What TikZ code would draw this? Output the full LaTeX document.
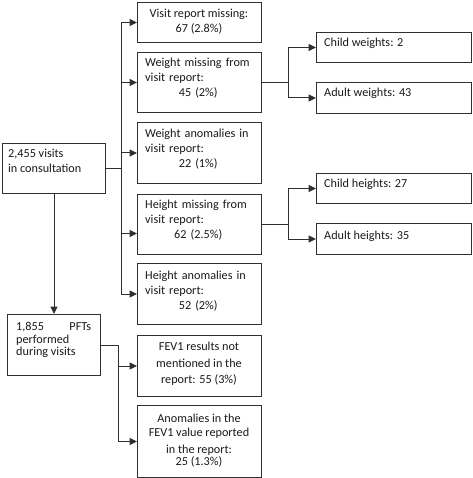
\documentclass[tikz,border=0pt]{standalone}
\usepackage{fontspec}
\setmainfont{Carlito}
\usetikzlibrary{arrows.meta,calc}
\definecolor{lc}{HTML}{303030}
\definecolor{tc}{HTML}{1A1A1A}
\begin{document}
\begin{tikzpicture}[x=1pt,y=-1pt,
  box/.style={draw=lc, line width=1pt, inner sep=0pt, anchor=north west},
  txt/.style={inner sep=0pt, text=tc, font=\fontsize{12.2}{15}\selectfont},
  ln/.style={draw=lc, line width=1pt},
  arr/.style={draw=lc, line width=1pt, -{Triangle[length=7.5pt,width=7pt]}}]
\useasboundingbox[fill=white] (0,0) rectangle (472,478);
% boxes
\node[box, minimum width=103pt, minimum height=50pt] (b1) at (2,143) {};
\node[box, minimum width=93pt, minimum height=61pt] (b2) at (7,314) {};
\node[box, minimum width=124pt, minimum height=40pt] (A) at (137,2) {};
\node[box, minimum width=124pt, minimum height=60pt] (B) at (137,52) {};
\node[box, minimum width=124pt, minimum height=61pt] (C) at (137,122) {};
\node[box, minimum width=124pt, minimum height=60pt] (D) at (137,194) {};
\node[box, minimum width=124pt, minimum height=61pt] (E) at (137,263) {};
\node[box, minimum width=124pt, minimum height=61pt] (F) at (137,335) {};
\node[box, minimum width=124pt, minimum height=72pt] (G) at (137,405) {};
\node[box, minimum width=155pt, minimum height=30pt] (cw) at (316,32) {};
\node[box, minimum width=155pt, minimum height=31pt] (aw) at (316,82) {};
\node[box, minimum width=155pt, minimum height=30pt] (ch) at (316,173) {};
\node[box, minimum width=155pt, minimum height=31pt] (ah) at (316,223) {};
% texts
\node[txt, anchor=north west, align=left, font=\fontsize{12.2}{14}\selectfont] (tb1) at (8,148) {\strut 2,455 visits\\in consultation};
\node[txt, anchor=north west, align=left, font=\fontsize{12.2}{12}\selectfont] (tb2) at (16,322) {\strut\makebox[75pt][s]{1,855 PFTs}\\performed\\during visits};
\node[txt, anchor=north, align=center] (tA) at (199,7) {\strut Visit report missing:\\67 (2.8\%)};
\node[txt, anchor=north west, text width=106pt, align=center] (tB) at (145,56) {\strut\makebox[106pt][s]{Weight missing from}\\\makebox[106pt][l]{visit report:}\\45 (2\%)};
\node[txt, anchor=north west, text width=106pt, align=center] (tC) at (145,127) {\strut\makebox[106pt][s]{Weight anomalies in}\\\makebox[106pt][l]{visit report:}\\22 (1\%)};
\node[txt, anchor=north west, text width=106pt, align=center] (tD) at (145,198) {\strut\makebox[106pt][s]{Height missing from}\\\makebox[106pt][l]{visit report:}\\62 (2.5\%)};
\node[txt, anchor=north west, text width=106pt, align=center] (tE) at (145,269) {\strut\makebox[106pt][s]{Height anomalies in}\\\makebox[106pt][l]{visit report:}\\52 (2\%)};
\node[txt, anchor=north, align=center, font=\fontsize{12.2}{16.5}\selectfont] (tF) at (199,339) {\strut FEV1 results not\\mentioned in the\\report: 55 (3\%)};
\node[txt, anchor=north, align=center, font=\fontsize{12.2}{14}\selectfont] (tG) at (199,412) {\strut Anomalies in the\\FEV1 value reported\\[3pt]in the report:\\[-2pt]25 (1.3\%)};
\node[txt, anchor=base west] (tcw) at (324,47) {Child weights: 2};
\node[txt, anchor=base west] (taw) at (324,97) {Adult weights: 43};
\node[txt, anchor=base west] (tch) at (324,187) {Child heights: 27};
\node[txt, anchor=base west] (tah) at (324,239) {Adult heights: 35};
% connectors
\coordinate (t1) at (121,0);
\coordinate (t2) at (118,0);
\coordinate (t3) at (288,0);
\draw[ln] (b1.east) -- (b1.east -| t1);
\draw[ln] (A.west -| t1) -- (E.west -| t1);
\foreach \n in {A,B,C,E} \draw[arr] (\n.west -| t1) -- (\n.west);
\draw[arr] ([yshift=-9pt]D.west -| t1) -- ([yshift=-9pt]D.west);
\draw[arr] (b1.south) -- (b2.north);
\draw[ln] (b2.east) -- (b2.east -| t2) -- (G.west -| t2);
\draw[arr] (F.west -| t2) -- (F.west);
\draw[arr] (G.west -| t2) -- (G.west);
\draw[ln] (B.east) -- (B.east -| t3);
\draw[ln] (cw.west -| t3) -- (aw.west -| t3);
\draw[arr] (cw.west -| t3) -- (cw.west);
\draw[arr] (aw.west -| t3) -- (aw.west);
\draw[ln] (D.east) -- (D.east -| t3);
\draw[ln] (ch.west -| t3) -- (ah.west -| t3);
\draw[arr] (ch.west -| t3) -- (ch.west);
\draw[arr] (ah.west -| t3) -- (ah.west);
\end{tikzpicture}
\end{document}
